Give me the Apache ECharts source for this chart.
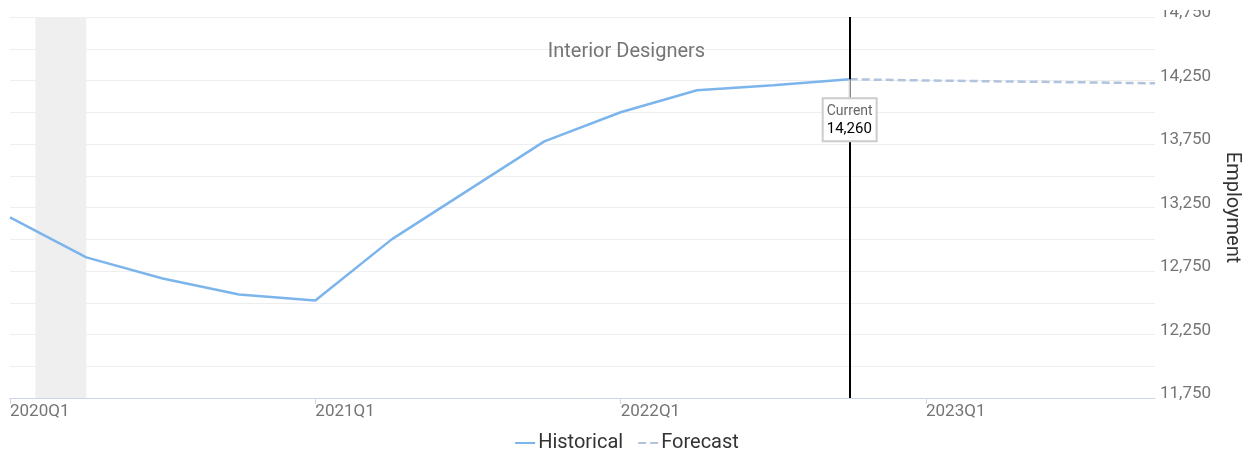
<!DOCTYPE html>
<html>
<head>
<meta charset="utf-8">
<script src="https://cdn.jsdelivr.net/npm/echarts@6/dist/echarts.min.js"></script>
<style>
  html, body { margin: 0; padding: 0; background: #fff; }
  #chart { width: 1253px; height: 451px; }
</style>
</head>
<body>
<div id="chart"></div>
<script>
// Quarterly employment, Interior Designers
const categories = [
  '2020Q1', '2020Q2', '2020Q3', '2020Q4',
  '2021Q1', '2021Q2', '2021Q3', '2021Q4',
  '2022Q1', '2022Q2', '2022Q3', '2022Q4',
  '2023Q1', '2023Q2', '2023Q3', '2023Q4'
];
const historical = [13172, 12857, 12691, 12565, 12518, 12999, 13385, 13771, 14000, 14173, 14213, 14260];
// forecast starts at the current quarter (index 11)
const forecastStart = 11;
const forecast = [14260, 14250, 14243, 14236, 14228];
const currentIndex = 11;
const currentValue = 14260;
// recession shading, in quarter units from 2020Q1
const recession = [1 / 3, 1];
const xTickValues = [0, 4, 8, 12];
const yTickLabels = [11750, 12250, 12750, 13250, 13750, 14250, 14750];

const fmt = v => v.toLocaleString('en-US');
const FONT = 'Roboto, "Noto Sans", sans-serif';

const chart = echarts.init(document.getElementById('chart'), null, { renderer: 'canvas' });

chart.setOption({
  animation: false,
  textStyle: { fontFamily: FONT },
  title: {
    text: 'Interior Designers',
    left: 'center',
    top: 37,
    textStyle: { fontFamily: FONT, fontSize: 20, fontWeight: 'normal', color: '#757575' }
  },
  legend: {
    top: 428,
    left: 'center',
    itemWidth: 20,
    itemHeight: 14,
    itemGap: 14,
    itemStyle: { opacity: 0 },
    textStyle: { fontFamily: FONT, fontSize: 20, color: '#333', padding: [0, 0, 0, -2] },
    data: ['Historical', 'Forecast']
  },
  grid: { left: 10, right: 98, top: 17, bottom: 53, containLabel: false },
  xAxis: {
    type: 'value',
    min: 0,
    max: categories.length - 1,
    interval: 4,
    axisLine: { show: true, lineStyle: { color: '#ccd6eb', width: 1 } },
    axisTick: { show: true, length: 6, customValues: xTickValues, lineStyle: { color: '#ccd6eb' } },
    splitLine: { show: false },
    axisLabel: {
      customValues: xTickValues,
      formatter: v => categories[v] || '',
      align: 'left',
      margin: 5,
      fontSize: 17,
      color: '#757575',
      fontFamily: FONT
    }
  },
  yAxis: {
    type: 'value',
    position: 'right',
    min: 11750,
    max: 14750,
    interval: 250,
    name: 'Employment',
    nameLocation: 'middle',
    nameRotate: -90,
    nameGap: 54,
    nameTextStyle: { fontFamily: FONT, fontSize: 20, color: '#333' },
    axisLine: { show: false },
    axisTick: { show: false },
    splitLine: { show: true, lineStyle: { color: '#eeeeee', width: 1 } },
    axisLabel: {
      customValues: yTickLabels,
      formatter: v => fmt(v),
      margin: 5,
      fontSize: 17,
      color: '#757575',
      verticalAlign: 'bottom',
      lineHeight: 8,
      fontFamily: FONT
    }
  },
  series: [
    {
      name: 'Historical',
      type: 'line',
      symbol: 'none',
      z: 3,
      color: '#7cb5ec',
      lineStyle: { color: '#7cb5ec', width: 2.5 },
      data: historical.map((v, i) => [i, v]),
      markArea: {
        silent: true,
        itemStyle: { color: '#efefef' },
        data: [[{ xAxis: recession[0] }, { xAxis: recession[1] }]]
      },
      markLine: {
        silent: true,
        symbol: 'none',
        label: { show: false },
        lineStyle: { color: '#000', width: 2, type: 'solid' },
        data: [{ xAxis: currentIndex }]
      },
      markPoint: {
        silent: true,
        data: [{
          coord: [currentIndex, currentValue],
          symbol: 'rect',
          symbolSize: [2, 20],
          symbolOffset: [0, 10],
          itemStyle: { color: '#cccccc' },
          label: {
            show: true,
            position: 'bottom',
            distance: 0,
            backgroundColor: '#fff',
            borderColor: '#cccccc',
            borderWidth: 2,
            padding: [3, 3, 2, 3],
            align: 'center',
            formatter: '{a|Current}\n{b|' + fmt(currentValue) + '}',
            rich: {
              a: { fontFamily: FONT, fontSize: 14, color: '#666', lineHeight: 18, align: 'left' },
              b: { fontFamily: FONT, fontSize: 15, color: '#000', lineHeight: 18, align: 'left' }
            }
          }
        }]
      }
    },
    {
      name: 'Forecast',
      type: 'line',
      symbol: 'none',
      z: 3,
      color: '#b0c4de',
      lineStyle: { color: '#b0c4de', width: 2.5, type: [8, 4] },
      data: forecast.map((v, i) => [forecastStart + i, v])
    }
  ],
  graphic: [{
    // clip strip above the plot on the value-axis side
    type: 'rect',
    right: 0,
    top: 0,
    z: 100,
    shape: { width: 110, height: 10 },
    style: { fill: '#fff' }
  }]
});
</script>
</body>
</html>
